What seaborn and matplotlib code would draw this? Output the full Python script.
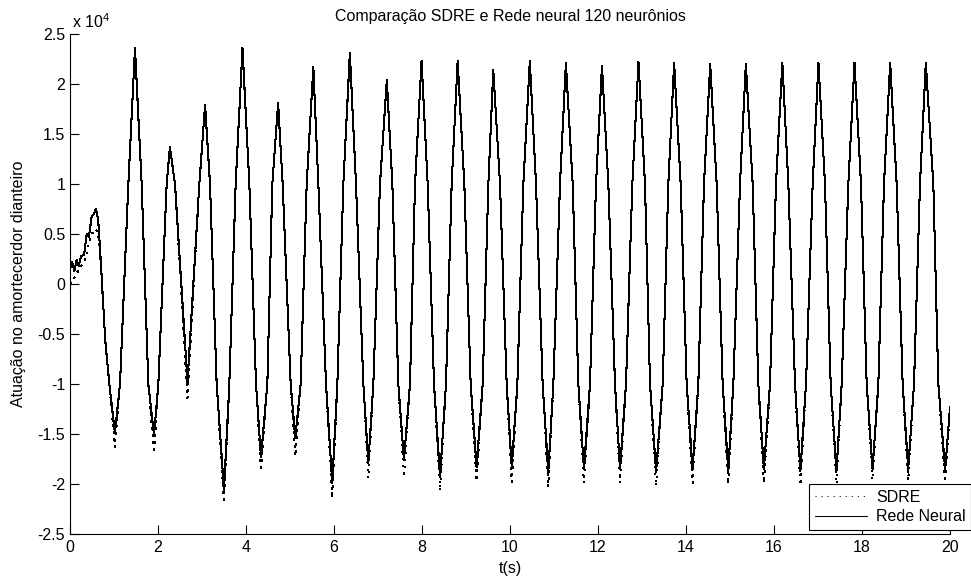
import numpy as np
import pandas as pd
import matplotlib
matplotlib.use('Agg')
import matplotlib.pyplot as plt
from matplotlib.ticker import FuncFormatter, MultipleLocator
import seaborn as sns

# curve: extrema plus the times where the curve
# crosses the +1e4 / -1e4 levels (values in units of 1e4)
t_points = [
    0.00, 0.05, 0.10, 0.15, 0.20, 0.25, 0.32, 0.38, 0.43, 0.49, 0.54, 0.59, 0.64, 0.68, 0.72, 0.80, 0.894, 1.02,
    1.136, 1.326, 1.477, 1.629, 1.780, 1.91, 2.008, 2.197, 2.27, 2.386, 2.67, 2.939, 3.07, 3.182,
    3.333, 3.50, 3.621, 3.765, 3.92, 4.076, 4.227, 4.34, 4.485, 4.598, 4.73, 4.833,
    5.015, 5.12, 5.242, 5.379, 5.53, 5.644, 5.818, 5.96, 6.076, 6.212, 6.36, 6.50,
    6.667, 6.78, 6.894, 7.045, 7.20, 7.326, 7.462, 7.59, 7.727, 7.841, 7.99, 8.129,
    8.273, 8.41, 8.545, 8.674, 8.81, 8.962, 9.106, 9.24, 9.379, 9.508, 9.62, 9.773,
    9.924, 10.04, 10.167, 10.303, 10.45, 10.591, 10.742, 10.87, 10.985, 11.136, 11.27, 11.425,
    11.553, 11.68, 11.818, 11.955, 12.09, 12.235, 12.386, 12.50, 12.636, 12.78, 12.92, 13.068,
    13.182, 13.32, 13.47, 13.598, 13.73, 13.879, 14.015, 14.15, 14.28, 14.409, 14.55, 14.697,
    14.833, 14.96, 15.076, 15.227, 15.36, 15.515, 15.644, 15.77, 15.909, 16.045, 16.19, 16.326,
    16.477, 16.60, 16.727, 16.879, 17.01, 17.159, 17.288, 17.42, 17.538, 17.689, 17.83, 17.977,
    18.106, 18.24, 18.371, 18.50, 18.64, 18.788, 18.924, 19.05, 19.182, 19.318, 19.45, 19.621,
    19.735, 19.89, 20.00,
]

rede_neural = [
    0.15, 0.22, 0.13, 0.24, 0.18, 0.28, 0.29, 0.50, 0.47, 0.67, 0.70, 0.75, 0.64, 0.37, 0.07, -0.56, -1.0, -1.49,
    -1.0, 1.0, 2.36, 1.0, -1.0, -1.51, -1.0, 1.0, 1.37, 1.0, -0.98, 1.0, 1.79, 1.0,
    -1.0, -2.06, -1.0, 1.0, 2.36, 1.0, -1.0, -1.73, -1.0, 1.0, 1.81, 1.0,
    -1.0, -1.54, -1.0, 1.0, 2.17, 1.0, -1.0, -1.99, -1.0, 1.0, 2.31, 1.0,
    -1.0, -1.79, -1.0, 1.0, 2.04, 1.0, -1.0, -1.76, -1.0, 1.0, 2.23, 1.0,
    -1.0, -1.93, -1.0, 1.0, 2.23, 1.0, -1.0, -1.83, -1.0, 1.0, 2.14, 1.0,
    -1.0, -1.83, -1.0, 1.0, 2.23, 1.0, -1.0, -1.88, -1.0, 1.0, 2.21, 1.0,
    -1.0, -1.85, -1.0, 1.0, 2.18, 1.0, -1.0, -1.85, -1.0, 1.0, 2.22, 1.0,
    -1.0, -1.88, -1.0, 1.0, 2.21, 1.0, -1.0, -1.85, -1.0, 1.0, 2.20, 1.0,
    -1.0, -1.86, -1.0, 1.0, 2.20, 1.0, -1.0, -1.85, -1.0, 1.0, 2.21, 1.0,
    -1.0, -1.87, -1.0, 1.0, 2.21, 1.0, -1.0, -1.87, -1.0, 1.0, 2.21, 1.0,
    -1.0, -1.85, -1.0, 1.0, 2.21, 1.0, -1.0, -1.85, -1.0, 1.0, 2.21, 1.0,
    -1.0, -1.86, -1.23,
]

sdre = [
    0.00, 0.03, 0.06, 0.10, 0.15, 0.18, 0.22, 0.30, 0.42, 0.50, 0.52, 0.55, 0.50, 0.30, 0.05, -0.56, -1.0, -1.63,
    -1.0, 1.0, 2.34, 1.0, -1.0, -1.69, -1.0, 1.0, 1.36, 1.0, -1.14, 1.0, 1.78, 1.0,
    -1.0, -2.19, -1.0, 1.0, 2.34, 1.0, -1.0, -1.87, -1.0, 1.0, 1.80, 1.0,
    -1.0, -1.72, -1.0, 1.0, 2.16, 1.0, -1.0, -2.14, -1.0, 1.0, 2.29, 1.0,
    -1.0, -1.94, -1.0, 1.0, 2.03, 1.0, -1.0, -1.93, -1.0, 1.0, 2.22, 1.0,
    -1.0, -2.07, -1.0, 1.0, 2.22, 1.0, -1.0, -1.97, -1.0, 1.0, 2.13, 1.0,
    -1.0, -1.98, -1.0, 1.0, 2.22, 1.0, -1.0, -2.03, -1.0, 1.0, 2.20, 1.0,
    -1.0, -1.99, -1.0, 1.0, 2.17, 1.0, -1.0, -1.99, -1.0, 1.0, 2.21, 1.0,
    -1.0, -2.02, -1.0, 1.0, 2.20, 1.0, -1.0, -1.99, -1.0, 1.0, 2.19, 1.0,
    -1.0, -2.00, -1.0, 1.0, 2.19, 1.0, -1.0, -1.99, -1.0, 1.0, 2.20, 1.0,
    -1.0, -2.01, -1.0, 1.0, 2.20, 1.0, -1.0, -2.00, -1.0, 1.0, 2.20, 1.0,
    -1.0, -1.96, -1.0, 1.0, 2.20, 1.0, -1.0, -1.96, -1.0, 1.0, 2.20, 1.0,
    -1.0, -1.98, -1.30,
]

TITLE = 'Comparação SDRE e Rede neural 120 neurônios'
XLABEL = 't(s)'
YLABEL = 'Atuação no amortecerdor dianteiro'
FS = 11.5

sns.set_style('ticks')
plt.rcParams['font.family'] = ['Liberation Sans', 'DejaVu Sans']
plt.rcParams['mathtext.default'] = 'regular'
plt.rcParams['lines.scale_dashes'] = False
plt.rcParams['xtick.direction'] = 'in'
plt.rcParams['ytick.direction'] = 'in'
plt.rcParams['text.color'] = 'black'
plt.rcParams['axes.labelcolor'] = 'black'

df = pd.DataFrame({
    't': t_points,
    'SDRE': np.array(sdre) * 1e4,
    'Rede Neural': np.array(rede_neural) * 1e4,
})

fig = plt.figure(figsize=(9.71, 5.83), dpi=100)
ax = fig.add_axes([70 / 971, 49 / 583, 880 / 971, 500 / 583])

# MATLAB-like crisp 1 px lines, no anti-aliasing
sns.lineplot(data=df, x='t', y='SDRE', ax=ax, color='black', lw=0.75,
             linestyle=(0, (0.75, 3.6)), estimator=None, sort=False,
             label='SDRE', antialiased=False)
sns.lineplot(data=df, x='t', y='Rede Neural', ax=ax, color='black', lw=0.75,
             estimator=None, sort=False, label='Rede Neural',
             antialiased=False)

ax.set_xlim(0, 20)
ax.set_ylim(-2.5e4, 2.5e4)
ax.xaxis.set_major_locator(MultipleLocator(2))
ax.yaxis.set_major_locator(MultipleLocator(5000))


def fmt(v, pos):
    s = f'{round(v / 1e4, 2):g}'
    return '0' if s == '-0' else s


ax.yaxis.set_major_formatter(FuncFormatter(fmt))
ax.tick_params(axis='both', length=6.5, width=0.8, colors='black', labelsize=FS)
ax.tick_params(axis='y', pad=3.5)
ax.tick_params(axis='x', pad=4)

sns.despine(ax=ax)
for s in ['left', 'bottom']:
    ax.spines[s].set_linewidth(0.8)
    ax.spines[s].set_color('black')

ax.set_title(TITLE, fontsize=FS, pad=9)
ax.set_xlabel(XLABEL, fontsize=FS)
ax.set_ylabel(YLABEL, fontsize=FS)
ax.xaxis.set_label_coords(0.5, -0.054)
ax.yaxis.set_label_coords(-0.05, 0.5)
ax.text(0.002, 1.012, 'x 10$^{4}$', transform=ax.transAxes, ha='left',
        va='baseline', fontsize=FS)

leg = ax.legend(loc='upper left', bbox_to_anchor=(809 / 971, 1 - 484 / 583),
                bbox_transform=fig.transFigure, frameon=True, fancybox=False,
                edgecolor='black', framealpha=1, fontsize=FS, handlelength=3.25,
                handletextpad=0.6, borderpad=0.35, labelspacing=0.3,
                borderaxespad=0)
leg.get_frame().set_linewidth(0.8)

fig.patch.set_facecolor('white')
fig.savefig('out.png', dpi=100, facecolor='white')
